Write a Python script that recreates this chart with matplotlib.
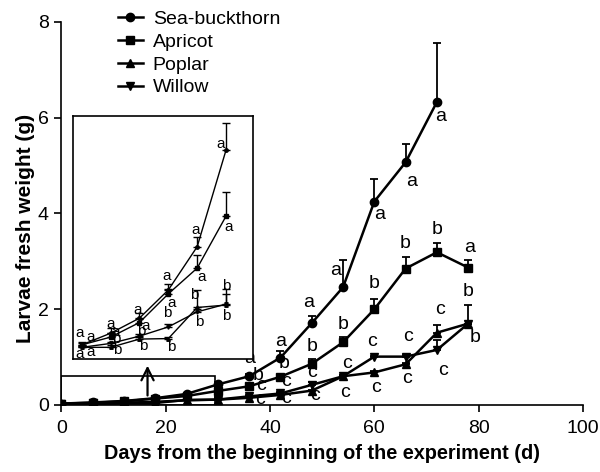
import matplotlib
matplotlib.use("Agg")
import matplotlib.pyplot as plt
from matplotlib.patches import Rectangle

plt.rcParams['font.family'] = ['Liberation Sans', 'DejaVu Sans']

days = [0, 6, 12, 18, 24, 30, 36, 42, 48, 54, 60, 66, 72, 78]
series_names = ["Sea-buckthorn", "Apricot", "Poplar", "Willow"]

seabuckthorn = [0.029, 0.053, 0.084, 0.142, 0.231, 0.43, 0.60, 0.99, 1.71, 2.46, 4.25, 5.07, 6.33]
seabuckthorn_err = [0.005, 0.01, 0.01, 0.012, 0.02, 0.055, 0.04, 0.14, 0.14, 0.57, 0.46, 0.39, 1.24]
apricot = [0.029, 0.045, 0.075, 0.134, 0.187, 0.294, 0.39, 0.59, 0.86, 1.31, 2.00, 2.85, 3.19, 2.87]
apricot_err = [0.004, 0.008, 0.008, 0.01, 0.027, 0.05, 0.03, 0.03, 0.11, 0.12, 0.21, 0.24, 0.19, 0.16]
poplar = [0.024, 0.024, 0.041, 0.042, 0.106, 0.111, 0.15, 0.21, 0.30, 0.60, 0.68, 0.85, 1.51, 1.70]
poplar_err = [0.003, 0.004, 0.004, 0.004, 0.036, 0.022, 0.02, 0.02, 0.02, 0.03, 0.03, 0.03, 0.16, 0.39]
willow = [0.024, 0.032, 0.047, 0.066, 0.097, 0.113, 0.18, 0.24, 0.42, 0.60, 1.01, 1.01, 1.15, 1.70]
willow_err = [0.003, 0.004, 0.005, 0.005, 0.005, 0.031, 0.03, 0.03, 0.06, 0.03, 0.02, 0.03, 0.21, 0.0]

seabuckthorn_letters = ['a'] * 13
apricot_letters = ['a'] * 6 + ['b'] * 7 + ['a']
poplar_letters = ['a'] + ['b'] * 5 + ['c'] * 7 + ['b']
willow_letters = ['a'] + ['b'] * 5 + ['c'] * 7 + ['b']

inset_last_day = 30
x_ticks = [0, 20, 40, 60, 80, 100]
y_ticks = [0, 2, 4, 6, 8]

# label offsets in pixels (days <= 30 drawn in the inset)
sb_off = [(-2, 12), (0, 9), (-2, 8), (-2, 14), (-2, 17), (-5, 6), (0, 18), (0, 16), (-3, 21), (-7, 17), (5, -13), (6, -19), (4, -15)]
ap_off = [(9, 8), (5, 5), (6, -3), (3, -9), (4, -9), (3, -11), (9, 11), (4, 13), (0, 17), (0, 18), (0, 26), (0, 25), (0, 23), (1, 20)]
po_off = [(-2, -7), (7, -3), (4, -7), (3, -8), (-3, 12), (0, 19), (11, -2), (6, -4), (3, -5), (2, -16), (2, -15), (1, -14), (3, 23), (0, 32)]
wi_off = [(9, -5), (6, 4), (2, 5), (-1, 14), (2, -10), (0, -12), (12, 11), (6, 12), (0, 12), (4, 13), (-2, 15), (2, 20), (6, -21), (7, -14)]

series = [
    (seabuckthorn, seabuckthorn_err, seabuckthorn_letters, sb_off, 'o'),
    (apricot, apricot_err, apricot_letters, ap_off, 's'),
    (poplar, poplar_err, poplar_letters, po_off, '^'),
    (willow, willow_err, willow_letters, wi_off, 'v'),
]

fig = plt.figure(figsize=(6.0, 4.72), dpi=100)
ax = fig.add_axes([0.1025, 0.142, 0.869, 0.8114])

handles = []
for (vals, err, letters, offs, mk), name in zip(series, series_names):
    x = days[:len(vals)]
    ax.errorbar(x, vals, yerr=[[0] * len(err), err], fmt='none', ecolor='black',
                elinewidth=1.3, capsize=3, capthick=1.3, zorder=2)
    h, = ax.plot(x, vals, color='black', lw=1.8, marker=mk, markersize=6, label=name, zorder=3)
    handles.append(h)
    for d, v, l, o in zip(x, vals, letters, offs):
        if d > inset_last_day:
            ax.annotate(l, (d, v), xytext=o, textcoords='offset pixels', ha='center', va='center',
                        fontsize=14)

ax.set_xlim(0, 100)
ax.set_ylim(0, 8)
ax.set_xticks(x_ticks)
ax.set_yticks(y_ticks)
ax.tick_params(labelsize=14, width=1.2, length=5, direction='out', pad=4)
ax.tick_params(axis='x', pad=6)
for s in ['top', 'right']:
    ax.spines[s].set_visible(False)
for s in ['left', 'bottom']:
    ax.spines[s].set_linewidth(1.2)
ax.set_xlabel("Days from the beginning of the experiment (d)", fontsize=14.3, fontweight='bold')
ax.xaxis.set_label_coords(0.5, -0.103)
ax.set_ylabel("Larvae fresh weight (g)", fontsize=15, fontweight='bold')
ax.yaxis.set_label_coords(-0.050, 0.462)

# zoom rectangle and arrow
ax.add_patch(Rectangle((0, 0), 29.5, 0.6, fill=False, edgecolor='black', lw=1.2, zorder=4))
ax.annotate('', xy=(16.5, 0.88), xytext=(16.5, 0.14),
            arrowprops=dict(arrowstyle='->', lw=1.6, color='black', mutation_scale=22), zorder=5)

leg = ax.legend(handles=handles, loc='upper left', bbox_to_anchor=(0.093, 1.051), frameon=False,
                fontsize=14, handlelength=1.3, handletextpad=0.5, labelspacing=0.27, borderaxespad=0)

# inset
axi = fig.add_axes([73 / 600, 1 - 359 / 472, 180 / 600, 243 / 472])
for (vals, err, letters, offs, mk) in series:
    n = sum(1 for d in days[:len(vals)] if d <= inset_last_day)
    x = days[:n]
    v = vals[:n]
    e = err[:n]
    axi.errorbar(x, v, yerr=[[0] * n, e], fmt='none', ecolor='black', elinewidth=1.0, capsize=3, capthick=1.0)
    axi.plot(x, v, color='black', lw=1.0, marker=mk, markersize=2.5)
    for d, val, l, o in zip(x, v, letters[:n], offs[:n]):
        axi.annotate(l, (d, val), xytext=o, textcoords='offset pixels', ha='center', va='center', fontsize=11)
axi.set_xlim(-1.8, 35.6)
axi.set_ylim(0, 0.5)
axi.set_xticks([])
axi.set_yticks([])
for s in axi.spines.values():
    s.set_linewidth(1.2)

fig.savefig("out.png", dpi=100)
